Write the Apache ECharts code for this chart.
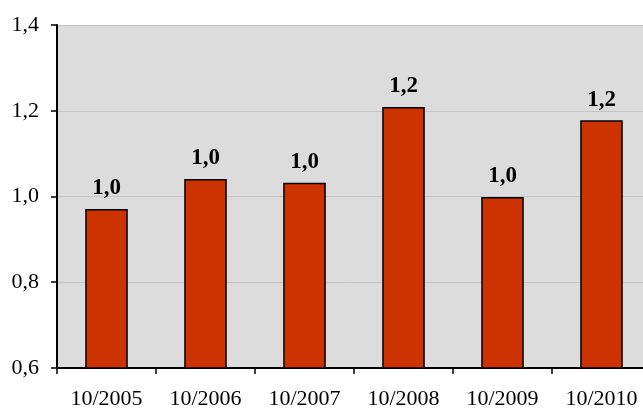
<!DOCTYPE html>
<html>
<head>
<meta charset="utf-8">
<script src="https://cdn.jsdelivr.net/npm/echarts@6/dist/echarts.min.js"></script>
<style>
html,body{margin:0;padding:0;background:#fff;}
#chart{width:643px;height:408px;}
</style>
</head>
<body>
<div id="chart"></div>
<script>
const categories = ['10/2005','10/2006','10/2007','10/2008','10/2009','10/2010'];
const values = [0.971, 1.041, 1.032, 1.209, 0.999, 1.178];
const yMin = 0.6, yMax = 1.4, yStep = 0.2;

const fmt = v => Number(v).toFixed(1).replace('.', ',');
const serif = '"Liberation Serif", "Times New Roman", serif';

const chart = echarts.init(document.getElementById('chart'), null, {renderer: 'canvas'});
chart.setOption({
  animation: false,
  backgroundColor: '#ffffff',
  grid: {
    left: 57, top: 25, height: 343, width: 594,
    outerBoundsMode: 'none',
    show: true, backgroundColor: '#dcdcdc', borderWidth: 0,
    containLabel: false
  },
  xAxis: {
    type: 'category',
    data: categories,
    boundaryGap: true,
    axisLine: {show: true, lineStyle: {color: '#000', width: 2}},
    axisTick: {show: true, alignWithLabel: false, length: 6, lineStyle: {color: '#000', width: 1.5}},
    axisLabel: {color: '#000', fontFamily: serif, fontSize: 22, margin: 20, interval: 0},
    splitLine: {show: false}
  },
  yAxis: {
    type: 'value',
    min: yMin, max: yMax, interval: yStep,
    axisLine: {show: true, lineStyle: {color: '#000', width: 2}},
    axisTick: {show: true, length: 6, lineStyle: {color: '#000', width: 1.5}},
    axisLabel: {color: '#000', fontFamily: serif, fontSize: 22, margin: 18, formatter: fmt},
    splitLine: {show: true, lineStyle: {color: '#c4c4c4', width: 1}}
  },
  series: [{
    type: 'bar',
    data: values,
    barWidth: '43%',
    itemStyle: {color: '#cc3300', borderColor: '#000', borderWidth: 1.5},
    label: {
      show: true, position: 'top', distance: 9,
      color: '#000', fontFamily: serif, fontSize: 23, fontWeight: 'bold',
      formatter: p => fmt(p.value)
    }
  }]
});
</script>
</body>
</html>
